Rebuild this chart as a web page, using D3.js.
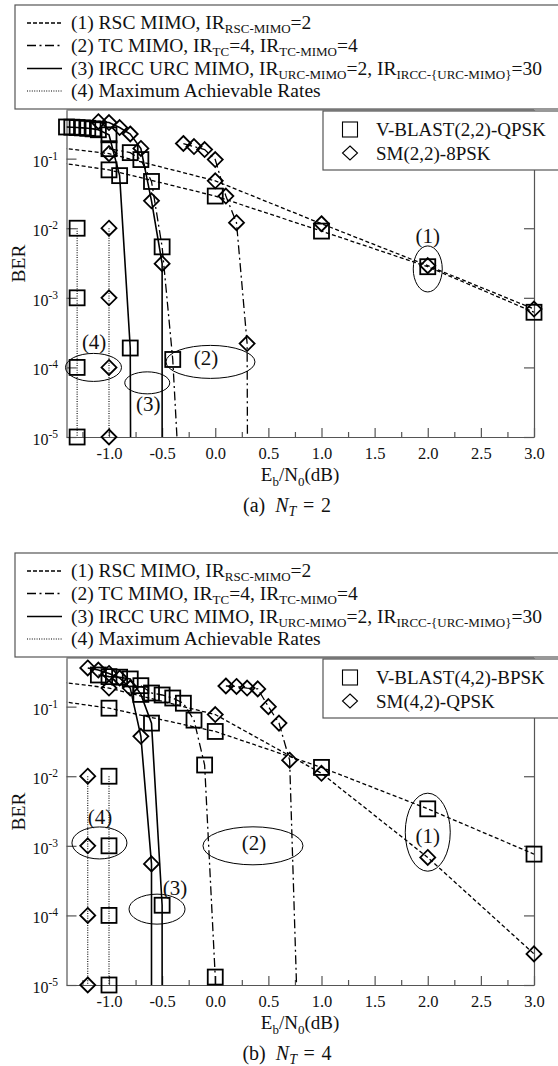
<!DOCTYPE html>
<html><head><meta charset="utf-8">
<script src="https://cdn.jsdelivr.net/npm/d3@7"></script>
<style>
body{margin:0;background:#fff}
svg{display:block;background:#fff}
text{font-family:"Liberation Serif","Times New Roman",serif;fill:#111}
</style>
</head><body>
<svg id="chart" width="558" height="1066"></svg>
<script>
// ---------- axes ----------
const xDomain = [-1.4, 3.0];
const yDomain = [1e-5, 0.5];
const xMajorTicks = [-1.0, -0.5, 0.0, 0.5, 1.0, 1.5, 2.0, 2.5, 3.0];
const xMinorTicks = [-1.25, -0.75, -0.25, 0.25, 0.75, 1.25, 1.75, 2.25, 2.75];
const yTicks = [1e-5, 1e-4, 1e-3, 1e-2, 1e-1];
const yTickExp = ["-5", "-4", "-3", "-2", "-1"];
const xAxisTitle = ["E", "b", "/N", "0", "(dB)"];

// ---------- legend texts ----------
const legendRow1 = [["(1) RSC MIMO, IR", 0], ["RSC-MIMO", 1], ["=2", 0]];
const legendRow2 = [["(2) TC MIMO, IR", 0], ["TC", 1], ["=4, IR", 0], ["TC-MIMO", 1], ["=4", 0]];
const legendRow3 = [["(3) IRCC URC MIMO, IR", 0], ["URC-MIMO", 1], ["=2, IR", 0], ["IRCC-{URC-MIMO}", 1], ["=30", 0]];
const legendRow4 = [["(4) Maximum Achievable Rates", 0]];

// ---------- panel (a) N_T = 2 ----------
const schemeNamesA = ["V-BLAST(2,2)-QPSK", "SM(2,2)-8PSK"];
const rscVblastA_x = [-1.5, -1.0, 0.0, 1.0, 2.0, 3.0];
const rscVblastA_y = [0.089, 0.069, 0.029, 0.0091, 0.0028, 6.2e-4];
const rscSmA_x = [-1.5, -1.0, 0.0, 1.0, 2.0, 3.0];
const rscSmA_y = [0.145, 0.118, 0.048, 0.0116, 0.0029, 6.9e-4];
const tcVblastA_x = [-1.0, -0.8, -0.7, -0.6, -0.5, -0.4, -0.325];
const tcVblastA_y = [0.139, 0.122, 0.097, 0.047, 0.0054, 1.3e-4, 1e-6];
const tcSmA_x = [-0.3, -0.2, -0.1, 0.0, 0.1, 0.2, 0.3, 0.305];
const tcSmA_y = [0.165, 0.149, 0.135, 0.097, 0.029, 0.012, 2.2e-4, 1e-6];
const irccVblastA_x = [-1.4, -1.35, -1.3, -1.25, -1.2, -1.15, -1.1, -1.0, -0.9, -0.8, -0.795];
const irccVblastA_y = [0.285, 0.283, 0.28, 0.277, 0.273, 0.268, 0.26, 0.22, 0.057, 1.9e-4, 1e-6];
const irccSmA_x = [-1.1, -1.0, -0.9, -0.8, -0.7, -0.6, -0.5, -0.5];
const irccSmA_y = [0.34, 0.33, 0.28, 0.226, 0.14, 0.0248, 0.0031, 1e-6];
const maxVblastA_x = [-1.3, -1.3, -1.3, -1.3];
const maxSmA_x = [-1.0, -1.0, -1.0, -1.0];
const maxRate_y = [1e-2, 1e-3, 1e-4, 1e-5];
const annotA = [
  {t: "(1)", cx: 2.0, cy: 2.6e-3, rx: 14.5, ry: 23, lx: 2.0, ly: 7.7e-3},
  {t: "(2)", cx: -0.045, cy: 1.2e-4, rx: 44.5, ry: 16.5, lx: -0.087, ly: 1.35e-4},
  {t: "(3)", cx: -0.64, cy: 6.0e-5, rx: 22.5, ry: 11, lx: -0.63, ly: 3.0e-5},
  {t: "(4)", cx: -1.146, cy: 1.0e-4, rx: 28, ry: 14, lx: -1.14, ly: 2.3e-4}
];

// ---------- panel (b) N_T = 4 ----------
const schemeNamesB = ["V-BLAST(4,2)-BPSK", "SM(4,2)-QPSK"];
const rscVblastB_x = [-1.5, -1.0, 0.0, 1.0, 2.0, 3.0];
const rscVblastB_y = [0.122, 0.095, 0.044, 0.0134, 0.0034, 7.6e-4];
const rscSmB_x = [-1.5, -1.0, 0.0, 1.0, 2.0, 3.0];
const rscSmB_y = [0.23, 0.185, 0.077, 0.011, 6.8e-4, 2.8e-5];
const tcVblastB_x = [-0.7, -0.6, -0.5, -0.4, -0.3, -0.2, -0.1, 0.0, 0.005];
const tcVblastB_y = [0.2, 0.157, 0.147, 0.133, 0.112, 0.064, 0.0145, 1.3e-5, 1e-6];
const tcSmB_x = [0.1, 0.2, 0.3, 0.4, 0.5, 0.6, 0.7, 0.785];
const tcSmB_y = [0.198, 0.195, 0.185, 0.18, 0.1, 0.058, 0.017, 1e-6];
const irccVblastB_x = [-1.1, -1.0, -0.9, -0.8, -0.7, -0.6, -0.5, -0.5];
const irccVblastB_y = [0.285, 0.27, 0.265, 0.25, 0.15, 0.058, 1.4e-4, 1e-6];
const irccSmB_x = [-1.2, -1.1, -1.0, -0.9, -0.8, -0.7, -0.6, -0.6];
const irccSmB_y = [0.36, 0.336, 0.30, 0.258, 0.185, 0.0375, 5.5e-4, 1e-6];
const maxVblastB_x = [-1.0, -1.0, -1.0, -1.0];
const maxSmB_x = [-1.2, -1.2, -1.2, -1.2];
const annotB = [
  {t: "(1)", cx: 2.0, cy: 1.57e-3, rx: 22.5, ry: 39, lx: 2.0, ly: 1.4e-3},
  {t: "(2)", cx: 0.355, cy: 1.0e-3, rx: 50, ry: 19, lx: 0.365, ly: 1.1e-3},
  {t: "(3)", cx: -0.548, cy: 1.23e-4, rx: 28, ry: 15, lx: -0.379, ly: 2.45e-4},
  {t: "(4)", cx: -1.09, cy: 1.1e-3, rx: 27.5, ry: 16, lx: -1.085, ly: 2.6e-3}
];

// ---------- styles ----------
const styleRSC = {dash: "4,2.5", w: 1.3};
const styleTC = {dash: "9,3.5,2,3.5", w: 1.3};
const styleIRCC = {dash: null, w: 1.6};
const styleMAX = {dash: "1,1.4", w: 1.1};

const svg = d3.select("#chart");
const L = 66.5, R = 534, T = 110, B = 437;
const axCol = "#555";

function zip(xs, ys) { return xs.map((v, i) => ({x: v, y: ys[i]})); }

function drawPanel(P) {
  const g = svg.append("g").attr("transform", `translate(0,${P.oy})`);
  const x = d3.scaleLinear().domain(xDomain).range([L, R]);
  const y = d3.scaleLog().domain(yDomain).range([B, T]);

  const cid = "clip" + P.id;
  g.append("clipPath").attr("id", cid).append("rect")
    .attr("x", L).attr("y", T).attr("width", R - L).attr("height", B - T);

  // axes
  const ax = g.append("g").attr("class", "axes");
  const xb = ax.append("g").attr("transform", `translate(0,${B})`)
    .call(d3.axisBottom(x).tickValues(xMajorTicks).tickSizeInner(-9).tickSizeOuter(0)
      .tickPadding(10).tickFormat(d => d.toFixed(1)));
  const xm = ax.append("g").attr("transform", `translate(0,${B})`)
    .call(d3.axisBottom(x).tickValues(xMinorTicks).tickSizeInner(-5).tickSizeOuter(0).tickFormat(""));
  xm.select(".domain").remove();
  ax.append("g").attr("transform", `translate(${L},0)`)
    .call(d3.axisLeft(y).tickValues(yTicks).tickSizeInner(-10).tickSizeOuter(0).tickFormat(""));
  ax.append("g").attr("transform", `translate(${R},0)`)
    .call(d3.axisRight(y).tickValues(yTicks).tickSizeInner(-10).tickSizeOuter(0).tickFormat(""));
  ax.append("line").attr("x1", L).attr("x2", R).attr("y1", T).attr("y2", T);
  ax.selectAll("path.domain, line").attr("stroke", axCol).attr("stroke-width", 1.2);
  xb.selectAll("text").attr("font-size", 16.5).attr("fill", "#111")
    .attr("font-family", '"Liberation Serif",serif');

  // y tick labels with superscripts
  yTicks.forEach((v, i) => {
    const t = ax.append("text").attr("x", 58).attr("y", y(v) + 8).attr("text-anchor", "end")
      .attr("font-size", 16);
    t.append("tspan").text("10");
    t.append("tspan").attr("font-size", 11.5).attr("dy", -7).text(yTickExp[i]);
  });

  // axis titles
  g.append("text").attr("transform", `translate(25,${(T + B) / 2 - 10}) rotate(-90)`)
    .attr("text-anchor", "middle").attr("font-size", 19.5).text("BER");
  const xt = g.append("text").attr("x", 300).attr("y", 481).attr("text-anchor", "middle").attr("font-size", 19);
  xAxisTitle.forEach((s, i) => {
    const sp = xt.append("tspan").text(s);
    if (i % 2 === 1) sp.attr("font-size", 13).attr("dy", 4.5);
    else if (i > 0) sp.attr("dy", -4.5);
  });
  const cap = g.append("text").attr("x", 287).attr("y", 512).attr("text-anchor", "middle").attr("font-size", 20);
  cap.append("tspan").text(P.tag + "\u2002");
  cap.append("tspan").attr("font-style", "italic").text("N");
  cap.append("tspan").attr("font-style", "italic").attr("font-size", 14).attr("dy", 4).text("T");
  cap.append("tspan").attr("dy", -4).text("\u2004=\u2004" + P.nt);

  // series
  const line = d3.line().x(d => x(d.x)).y(d => y(d.y));
  const plot = g.append("g");
  const lines = plot.append("g").attr("clip-path", `url(#${cid})`);
  P.series.forEach(s => {
    lines.append("path").datum(zip(s.xs, s.ys)).attr("d", line)
      .attr("fill", "none").attr("stroke", "#000")
      .attr("stroke-width", s.st.w).attr("stroke-dasharray", s.st.dash);
  });
  const inRange = d => d.x >= xDomain[0] - 1e-9 && d.y >= yDomain[0] * 0.999 && d.y <= yDomain[1];
  const mk = plot.append("g").attr("fill", "none").attr("stroke", "#000").attr("stroke-width", 1.8);
  P.series.forEach(s => {
    zip(s.xs, s.ys).filter(inRange).forEach(d => {
      const cx = x(d.x), cy = y(d.y);
      if (s.m === "sq") {
        mk.append("rect").attr("x", cx - 7.5).attr("y", cy - 7.5).attr("width", 15).attr("height", 15);
      } else {
        mk.append("path").attr("d", `M${cx},${cy - 7.5}L${cx + 7.5},${cy}L${cx},${cy + 7.5}L${cx - 7.5},${cy}Z`);
      }
    });
  });

  // annotations
  P.annot.forEach(a => {
    plot.append("ellipse").attr("cx", x(a.cx)).attr("cy", y(a.cy)).attr("rx", a.rx).attr("ry", a.ry)
      .attr("fill", "none").attr("stroke", "#000").attr("stroke-width", 1);
    plot.append("text").attr("x", x(a.lx)).attr("y", y(a.ly) + 7).attr("text-anchor", "middle")
      .attr("font-size", 21).text(a.t);
  });

  // top legend
  const lg = g.append("g");
  lg.append("rect").attr("x", 15).attr("y", 5).attr("width", 560).attr("height", 104)
    .attr("fill", "#fff").attr("stroke", axCol).attr("stroke-width", 1.2);
  const rows = [legendRow1, legendRow2, legendRow3, legendRow4];
  const rowStyles = [styleRSC, styleTC, styleIRCC, styleMAX];
  const baselines = [29, 51.5, 74.5, 97];
  rows.forEach((row, i) => {
    lg.append("line").attr("x1", 27).attr("x2", 62).attr("y1", baselines[i] - 6).attr("y2", baselines[i] - 6)
      .attr("stroke", "#000").attr("stroke-width", rowStyles[i].w)
      .attr("stroke-dasharray", i === 0 ? "4,2" : rowStyles[i].dash);
    const t = lg.append("text").attr("x", 71).attr("y", baselines[i]).attr("font-size", 19.5);
    let sub = 0;
    row.forEach(([s, isSub]) => {
      const sp = t.append("tspan").text(s);
      if (isSub && !sub) { sp.attr("font-size", 13).attr("dy", 4); sub = 1; }
      else if (!isSub && sub) { sp.attr("dy", -4); sub = 0; }
      else if (isSub) sp.attr("font-size", 13);
    });
  });

  // scheme legend
  const sl = g.append("g");
  sl.append("rect").attr("x", 323).attr("y", 111).attr("width", 240).attr("height", 59)
    .attr("fill", "#fff").attr("stroke", axCol).attr("stroke-width", 1.2);
  const rowsY = [129.5, 153];
  sl.append("rect").attr("x", 350 - 7.5).attr("y", rowsY[0] - 7.5).attr("width", 15).attr("height", 15)
    .attr("fill", "none").attr("stroke", "#000").attr("stroke-width", 1.1);
  sl.append("path").attr("d", `M350,${rowsY[1] - 7}L357.5,${rowsY[1]}L350,${rowsY[1] + 7}L342.5,${rowsY[1]}Z`)
    .attr("fill", "none").attr("stroke", "#000").attr("stroke-width", 1.1);
  P.names.forEach((n, i) => {
    sl.append("text").attr("x", 376).attr("y", rowsY[i] + 6.5).attr("font-size", 19).text(n);
  });
}

drawPanel({
  id: "a", oy: 0, tag: "(a)", nt: "2", names: schemeNamesA, annot: annotA,
  series: [
    {xs: rscVblastA_x, ys: rscVblastA_y, st: styleRSC, m: "sq"},
    {xs: rscSmA_x, ys: rscSmA_y, st: styleRSC, m: "di"},
    {xs: tcVblastA_x, ys: tcVblastA_y, st: styleTC, m: "sq"},
    {xs: tcSmA_x, ys: tcSmA_y, st: styleTC, m: "di"},
    {xs: irccVblastA_x, ys: irccVblastA_y, st: styleIRCC, m: "sq"},
    {xs: irccSmA_x, ys: irccSmA_y, st: styleIRCC, m: "di"},
    {xs: maxVblastA_x, ys: maxRate_y, st: styleMAX, m: "sq"},
    {xs: maxSmA_x, ys: maxRate_y, st: styleMAX, m: "di"}
  ]
});
drawPanel({
  id: "b", oy: 548, tag: "(b)", nt: "4", names: schemeNamesB, annot: annotB,
  series: [
    {xs: rscVblastB_x, ys: rscVblastB_y, st: styleRSC, m: "sq"},
    {xs: rscSmB_x, ys: rscSmB_y, st: styleRSC, m: "di"},
    {xs: tcVblastB_x, ys: tcVblastB_y, st: styleTC, m: "sq"},
    {xs: tcSmB_x, ys: tcSmB_y, st: styleTC, m: "di"},
    {xs: irccVblastB_x, ys: irccVblastB_y, st: styleIRCC, m: "sq"},
    {xs: irccSmB_x, ys: irccSmB_y, st: styleIRCC, m: "di"},
    {xs: maxVblastB_x, ys: maxRate_y, st: styleMAX, m: "sq"},
    {xs: maxSmB_x, ys: maxRate_y, st: styleMAX, m: "di"}
  ]
});
</script>
</body></html>
